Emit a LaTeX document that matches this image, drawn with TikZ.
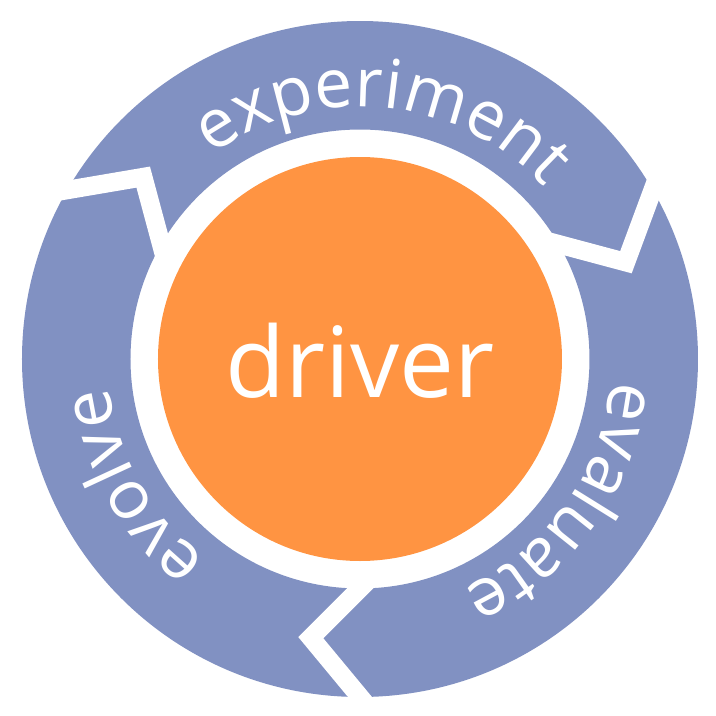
\documentclass[tikz,border=0pt]{standalone}
\usepackage{fontspec}
\setmainfont{Open Sans}
\newfontfamily\osans{Open Sans}
\usetikzlibrary{calc,decorations.text}
\definecolor{ringblue}{RGB}{129,145,194}
\definecolor{driverorange}{RGB}{255,148,66}
\begin{document}
\begin{tikzpicture}[x=1pt,y=1pt,
  ringfill/.style={fill=ringblue},
  gapline/.style={draw=white, line width=18.5pt, line join=miter},
  arctext/.style={decorate, decoration={text along path, text align=center, text color=white, text={|\osans\fontsize{68}{68}\selectfont|#1}}}
]
\useasboundingbox (-360,-357) rectangle (356,359);
% ring
\fill[ringfill, even odd rule] (0,0) circle[radius=338] (0,0) circle[radius=229.5];
% chevron gaps between the three arrows
\foreach \b [evaluate=\b as \v using \b-10] in {150,30,270} {
  \coordinate (vx) at (\v:283);
  \coordinate (ou) at (\b:338);
  \coordinate (in) at (\b:229.5);
  \draw[gapline] ($(vx)!1.3!(ou)$) -- (vx) -- ($(vx)!1.3!(in)$);
}
% centre disc
\fill[driverorange] (0,0) circle[radius=202];
\node[anchor=base, inner sep=0, text=white, font=\osans\fontsize{98}{98}\selectfont] (driver) at (0,-38) {driver};
% labels along the arrows
\path[arctext=experiment] (144.5:252) arc[start angle=144.5, end angle=24.5, radius=252];
\path[arctext=evaluate] (24.5:252) arc[start angle=24.5, end angle=-95.5, radius=252];
\path[arctext=evolve] (269.5:252) arc[start angle=269.5, end angle=149.5, radius=252];
\end{tikzpicture}
\end{document}
